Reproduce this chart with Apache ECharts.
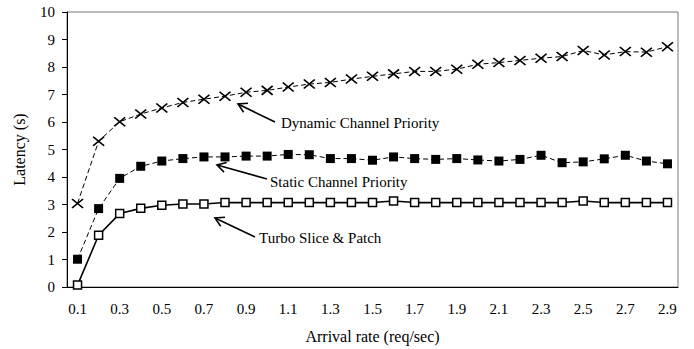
<!DOCTYPE html>
<html><head><meta charset="utf-8">
<script src="https://cdn.jsdelivr.net/npm/echarts@6/dist/echarts.min.js"></script>
<style>html,body{margin:0;padding:0;background:#fff}#c{width:694px;height:349px}</style>
</head><body><div id="c"></div>
<script>
var categories = ['0.1','0.2','0.3','0.4','0.5','0.6','0.7','0.8','0.9','1.0','1.1','1.2','1.3','1.4','1.5','1.6','1.7','1.8','1.9','2.0','2.1','2.2','2.3','2.4','2.5','2.6','2.7','2.8','2.9'];
var dynamicPriority = [3.04,5.3,6.01,6.29,6.51,6.71,6.83,6.94,7.08,7.15,7.27,7.38,7.44,7.56,7.66,7.75,7.84,7.84,7.92,8.1,8.16,8.24,8.32,8.38,8.6,8.44,8.56,8.54,8.74];
var staticPriority = [1.01,2.85,3.95,4.39,4.58,4.67,4.73,4.73,4.76,4.76,4.82,4.81,4.67,4.67,4.61,4.73,4.67,4.64,4.67,4.62,4.58,4.64,4.79,4.52,4.55,4.66,4.79,4.58,4.48];
var turboSlice = [0.07,1.88,2.67,2.86,2.97,3.02,3.02,3.07,3.07,3.07,3.07,3.07,3.07,3.07,3.07,3.13,3.07,3.07,3.07,3.07,3.07,3.07,3.07,3.07,3.13,3.07,3.07,3.07,3.07];
var yTicks = {min:0, max:10, interval:1};

var FONT = '"Liberation Serif", "Times New Roman", serif';
var FS = 15;
var FN = 16;
var chart = echarts.init(document.getElementById('c'), null, {renderer:'svg'});

function arrow(tip, tail, len){
  var dx = tail[0]-tip[0], dy = tail[1]-tip[1];
  var d = Math.sqrt(dx*dx+dy*dy); var ux = dx/d, uy = dy/d;
  var a = Math.PI/6;
  var p1 = [tip[0] + len*(ux*Math.cos(a) - uy*Math.sin(a)), tip[1] + len*(ux*Math.sin(a) + uy*Math.cos(a))];
  var p2 = [tip[0] + len*(ux*Math.cos(-a) - uy*Math.sin(-a)), tip[1] + len*(ux*Math.sin(-a) + uy*Math.cos(-a))];
  return [
    {type:'line', shape:{x1:tip[0],y1:tip[1],x2:tail[0],y2:tail[1]}, style:{stroke:'#000',lineWidth:1.6}},
    {type:'polyline', shape:{points:[p1,tip,p2]}, style:{stroke:'#000',lineWidth:1.6,fill:null}}
  ];
}
function label(x,y,t){
  return {type:'text', x:x, y:y, style:{text:t, font:FS+'px '+FONT, fill:'#000', verticalAlign:'middle', align:'left'}};
}
var graphics = [].concat(
  arrow([238,104],[275,122],10), [label(281,123,'Dynamic Channel Priority')],
  arrow([217,165],[267,179],10), [label(270,182,'Static Channel Priority')],
  arrow([215,218],[255,237],10), [label(259,238,'Turbo Slice & Patch')]
);

var option = {
  animation:false,
  backgroundColor:'#fff',
  grid:{left:67, right:16, top:12, bottom:61, show:true, borderColor:'#777', borderWidth:1},
  xAxis:{
    type:'category', data:categories, boundaryGap:true,
    name:'Arrival rate (req/sec)', nameLocation:'middle', nameGap:41,
    nameTextStyle:{fontFamily:FONT, fontSize:FN, color:'#000'},
    axisLine:{lineStyle:{color:'#000', width:1}},
    axisTick:{inside:true, length:4, interval:0, lineStyle:{color:'#000'}},
    axisLabel:{interval:1, fontFamily:FONT, fontSize:FS, color:'#000', margin:14},
    splitLine:{show:false}
  },
  yAxis:{
    type:'value', min:yTicks.min, max:yTicks.max, interval:yTicks.interval,
    name:'Latency (s)', nameLocation:'middle', nameGap:40,
    nameTextStyle:{fontFamily:FONT, fontSize:FN, color:'#000'},
    axisLine:{show:true, lineStyle:{color:'#000', width:1}},
    axisTick:{show:true, inside:false, length:5, lineStyle:{color:'#000'}},
    axisLabel:{fontFamily:FONT, fontSize:FS, color:'#000', margin:12},
    splitLine:{show:false}
  },
  series:[
    {name:'Dynamic Channel Priority', type:'line', data:dynamicPriority,
     symbol:'path://M0,0L10,8M10,0L0,8', symbolSize:[11,9], symbolKeepAspect:false,
     itemStyle:{color:'none', borderColor:'#000', borderWidth:1.6},
     lineStyle:{color:'#000', width:1, type:[5,3]}},
    {name:'Static Channel Priority', type:'line', data:staticPriority,
     symbol:'rect', symbolSize:9,
     itemStyle:{color:'#000', borderColor:'#000', borderWidth:0},
     lineStyle:{color:'#000', width:1, type:[5,3]}},
    {name:'Turbo Slice & Patch', type:'line', data:turboSlice,
     symbol:'rect', symbolSize:8,
     itemStyle:{color:'#fff', borderColor:'#000', borderWidth:1.5},
     lineStyle:{color:'#000', width:1.6, type:'solid'}}
  ],
  graphic:graphics
};
chart.setOption(option);
</script></body></html>
